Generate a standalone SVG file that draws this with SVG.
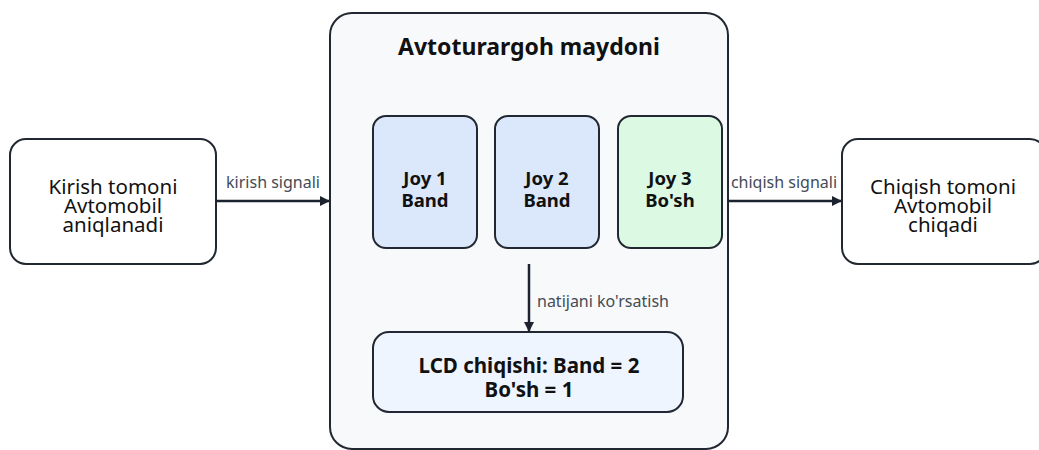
<svg xmlns="http://www.w3.org/2000/svg" width="1039" height="450" viewBox="0 0 1039 450">
<defs>
<style>
.box{stroke:#222831;stroke-width:2}
.t{font-family:"Noto Sans","Open Sans",sans-serif;fill:#111;text-anchor:middle}
.n{font-size:20.5px}
.b{font-size:18.5px;font-weight:bold}
.lcd{font-size:20.5px;font-weight:bold}
.lbl{font-family:"Noto Sans","Open Sans",sans-serif;font-size:16px;fill:#444b55}
.c{stroke:#1c2230;stroke-width:2.5;fill:none}
</style>
<marker id="ah" viewBox="0 0 10 10" refX="9" refY="5" markerWidth="4" markerHeight="4" orient="auto" markerUnits="strokeWidth">
<path d="M0,0 L10,5 L0,10 z" fill="#1c2230"/>
</marker>
</defs>
<rect width="1039" height="450" fill="#ffffff"/>
<g id="container">
<rect class="box" x="330" y="13" width="398" height="436" rx="22" fill="#f8f9fb"/>
<text class="t" x="529" y="55" font-size="23" font-weight="bold">Avtoturargoh maydoni</text>
</g>
<g id="entry">
<rect class="box" x="10" y="139" width="206" height="125" rx="16" fill="#ffffff"/>
<text class="t n" x="113" y="194">Kirish tomoni</text>
<text class="t n" x="113" y="213">Avtomobil</text>
<text class="t n" x="113" y="232">aniqlanadi</text>
</g>
<g id="exit">
<rect class="box" x="842" y="139" width="204" height="125" rx="16" fill="#ffffff"/>
<text class="t n" x="943" y="194">Chiqish tomoni</text>
<text class="t n" x="943" y="213">Avtomobil</text>
<text class="t n" x="943" y="232">chiqadi</text>
</g>
<g id="joy1">
<rect class="box" x="373" y="116" width="104" height="132" rx="13" fill="#dbe8fb"/>
<text class="t b" x="425" y="185">Joy 1</text>
<text class="t b" x="425" y="207">Band</text>
</g>
<g id="joy2">
<rect class="box" x="495" y="116" width="104" height="132" rx="13" fill="#dbe8fb"/>
<text class="t b" x="547" y="185">Joy 2</text>
<text class="t b" x="547" y="207">Band</text>
</g>
<g id="joy3">
<rect class="box" x="618" y="116" width="104" height="132" rx="13" fill="#dcf9e4"/>
<text class="t b" x="670" y="185">Joy 3</text>
<text class="t b" x="670" y="207">Bo'sh</text>
</g>
<g id="lcd">
<rect class="box" x="373" y="332" width="310" height="80" rx="16" fill="#eef5fe"/>
<text class="t lcd" x="529" y="373">LCD chiqishi: Band = 2</text>
<text class="t lcd" x="529" y="397">Bo'sh = 1</text>
</g>
<g id="connectors">
<line class="c" x1="216" y1="201" x2="329" y2="201" marker-end="url(#ah)"/>
<text class="lbl" x="273" y="188" text-anchor="middle">kirish signali</text>
<line class="c" x1="728" y1="201" x2="841" y2="201" marker-end="url(#ah)"/>
<text class="lbl" x="784" y="188" text-anchor="middle">chiqish signali</text>
<line class="c" x1="529" y1="264" x2="529" y2="331" marker-end="url(#ah)"/>
<text class="lbl" x="537" y="307">natijani ko'rsatish</text>
</g>
</svg>
